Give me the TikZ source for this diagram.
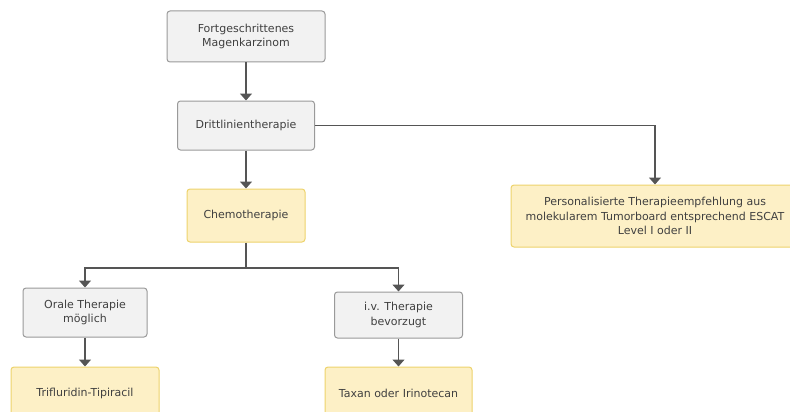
\documentclass[tikz,border=0pt]{standalone}
\usepackage{fontspec}
\setmainfont{DejaVu Sans}
\usetikzlibrary{arrows.meta}
\definecolor{boxgray}{HTML}{F2F2F2}
\definecolor{linegray}{HTML}{9A9A9A}
\definecolor{boxyellow}{HTML}{FDF0C6}
\definecolor{lineyellow}{HTML}{EDD36C}
\definecolor{arrowgray}{HTML}{555555}
\definecolor{textgray}{HTML}{404040}

\begin{document}
\begin{tikzpicture}[x=1pt, y=-1pt,
	greybox/.style={draw=linegray, fill=boxgray, rounded corners=3pt, line width=1pt,
		align=center, text=textgray, font=\fontsize{11}{14.5}\selectfont, inner sep=0pt},
	yellowbox/.style={greybox, draw=lineyellow, fill=boxyellow},
	flow/.style={draw=arrowgray, line width=1.4pt, -{Triangle[width=12pt,length=7pt]}}]
	\useasboundingbox (0,0) rectangle (790,412);
	% top of the tree
	\node[greybox, minimum width=158pt, minimum height=51pt] (start) at (246,36.5) {Fortgeschrittenes\\Magenkarzinom};
	\node[greybox, minimum width=137pt, minimum height=49pt] (third) at (246,125.5) {Drittlinientherapie};
	\node[yellowbox, minimum width=118pt, minimum height=53pt] (chemo) at (246,215.5) {Chemotherapie};
	\node[yellowbox, minimum width=288pt, minimum height=62pt] (board) at (655,216) {Personalisierte Therapieempfehlung aus\\molekularem Tumorboard entsprechend ESCAT\\Level I oder II};
	% chemo branches
	\node[greybox, minimum width=124pt, minimum height=49pt] (oral) at (85,312.5) {Orale Therapie\\m\"oglich};
	\node[greybox, minimum width=128pt, minimum height=46pt] (iv) at (398.5,315) {i.v. Therapie\\bevorzugt};
	\node[yellowbox, minimum width=148pt, minimum height=52pt] (tft) at (85,393) {Trifluridin-Tipiracil};
	\node[yellowbox, minimum width=147pt, minimum height=52pt] (taxan) at (398.5,393) {Taxan oder Irinotecan};
	\coordinate (split) at (246,268);

	\draw[flow] (start) -- (third);
	\draw[flow] (third.east) -| (board.north);
	\draw[flow] (third) -- (chemo);
	\draw[flow] (chemo.south) -- (split) -| (oral.north);
	\draw[flow] (split) -| (iv.north);
	\draw[flow] (oral) -- (tft);
	\draw[flow] (iv) -- (taxan);
\end{tikzpicture}
\end{document}
